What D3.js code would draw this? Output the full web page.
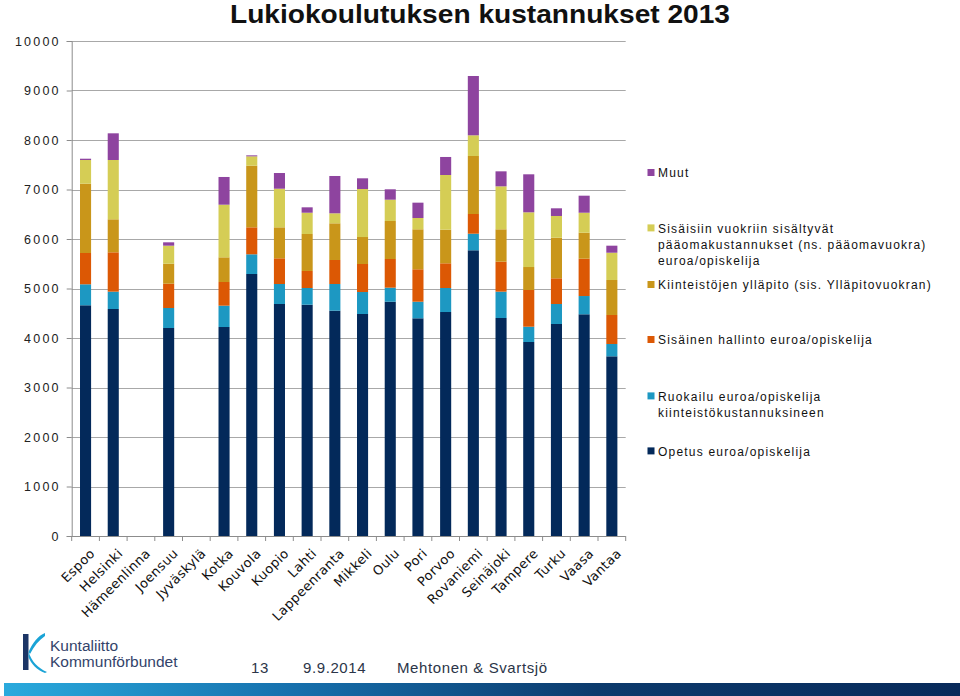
<!DOCTYPE html>
<html><head><meta charset="utf-8">
<script src="https://cdn.jsdelivr.net/npm/d3@7"></script>
<style>
html,body{margin:0;padding:0;background:#fff;}
svg{display:block;}
</style></head>
<body>
<svg id="chart" width="960" height="696"></svg>
<script>
const categories = ["Espoo","Helsinki","Hämeenlinna","Joensuu","Jyväskylä","Kotka","Kouvola","Kuopio","Lahti","Lappeenranta","Mikkeli","Oulu","Pori","Porvoo","Rovaniemi","Seinäjoki","Tampere","Turku","Vaasa","Vantaa"];
const opetus     = [4661,4586,0,4202,0,4222,5293,4687,4673,4552,4485,4733,4398,4525,5772,4404,3919,4283,4479,3630];
const ruokailu   = [424,350,0,404,0,431,398,404,337,539,444,284,335,485,335,532,309,404,369,249];
const hallinto   = [632,795,0,491,0,478,545,519,344,485,566,579,655,499,398,606,742,519,754,586];
const kiinteisto = [1400,667,0,404,0,499,1245,626,747,741,545,768,808,679,1172,654,464,820,525,707];
const paaoma     = [479,1198,0,364,0,1063,189,780,430,202,970,430,228,1105,418,868,1105,439,404,551];
const muut       = [26,539,0,68,0,560,20,317,109,754,216,210,310,364,1198,303,768,155,344,142];
const yTicks = [0,1000,2000,3000,4000,5000,6000,7000,8000,9000,10000];
const legendLines = [
  ["Opetus euroa/opiskelija"],
  ["Ruokailu euroa/opiskelija","kiinteistökustannuksineen"],
  ["Sisäinen hallinto euroa/opiskelija"],
  ["Kiinteistöjen ylläpito (sis. Ylläpitovuokran)"],
  ["Sisäisiin vuokriin sisältyvät","pääomakustannukset (ns. pääomavuokra)","euroa/opiskelija"],
  ["Muut"]
];
const colors = ["#03295a","#1d98c2","#dc5804","#c9961a","#d5cd55","#8e449f"];
const title = "Lukiokoulutuksen kustannukset 2013";

const svg = d3.select("#chart");
const keys = ["opetus","ruokailu","hallinto","kiinteisto","paaoma","muut"];
const arrs = [opetus,ruokailu,hallinto,kiinteisto,paaoma,muut];
const table = categories.map((c,i)=>{const o={cat:c}; keys.forEach((k,j)=>o[k]=arrs[j][i]); return o;});
const stacked = d3.stack().keys(keys)(table);

const pLeft=71.7, pRight=625.7, pTop=41, pBottom=536;
const x = d3.scaleBand().domain(categories).range([pLeft,pRight]).paddingInner(0.6).paddingOuter(0.3);
const y = d3.scaleLinear().domain([0,10000]).range([pBottom,pTop]);

// title
svg.append("text").attr("x",230).attr("y",22.5)
  .attr("textLength",500).attr("lengthAdjust","spacingAndGlyphs")
  .style("font-family","'Liberation Sans Narrow','Liberation Sans',Arial,sans-serif")
  .style("font-weight","bold").style("font-size","25px").attr("fill","#111").text(title);

// gridlines
svg.append("g").selectAll("line").data(yTicks.filter(d=>d>0)).join("line")
  .attr("x1",pLeft).attr("x2",pRight).attr("y1",d=>Math.round(y(d))+0.5).attr("y2",d=>Math.round(y(d))+0.5)
  .attr("stroke","#a8a8a8").attr("stroke-width",1);

// y axis
const yAxis = d3.axisLeft(y).tickValues(yTicks).tickSize(5).tickPadding(6).tickFormat(d3.format("d"));
const gy = svg.append("g").attr("transform",`translate(${pLeft},0)`).call(yAxis);
gy.select(".domain").attr("stroke","#8c8c8c");
gy.selectAll(".tick line").attr("stroke","#8c8c8c");
gy.selectAll(".tick text").style("font-family","'Liberation Sans',Arial,sans-serif")
  .style("font-size","12.5px").style("letter-spacing","2.2px").attr("fill","#222").attr("x",-11);

// bars
svg.append("g").selectAll("g").data(stacked).join("g").attr("fill",(d,i)=>colors[i])
  .selectAll("rect").data(d=>d).join("rect")
  .attr("x",d=>x(d.data.cat)).attr("width",x.bandwidth())
  .attr("y",d=>y(d[1])).attr("height",d=>Math.max(0,y(d[0])-y(d[1])));

// x axis
const step = x.step();
const bounds = d3.range(categories.length+1).map(i=>pLeft+i*step);
const gx = svg.append("g");
gx.append("line").attr("x1",pLeft).attr("x2",pRight).attr("y1",pBottom+0.5).attr("y2",pBottom+0.5).attr("stroke","#8c8c8c");
gx.selectAll("line.t").data(bounds).join("line").attr("class","t")
  .attr("x1",d=>d).attr("x2",d=>d).attr("y1",pBottom).attr("y2",pBottom+5).attr("stroke","#8c8c8c");
gx.selectAll("text").data(categories).join("text")
  .attr("transform",d=>`translate(${x(d)+x.bandwidth()/2+7},${pBottom+15}) rotate(-45)`)
  .attr("text-anchor","end").attr("dy","0.35em")
  .style("font-family","'DejaVu Sans',Verdana,sans-serif").style("font-size","13px")
  .style("letter-spacing","0.4px").attr("fill","#111")
  .text(d=>d);

// legend
const legendBase = [455.7, 400.7, 344.3, 289.3, 232.7, 177.3];
const lg = svg.append("g");
legendLines.forEach((lines,i)=>{
  lg.append("rect").attr("x",647.5).attr("y",legendBase[i]-8.3).attr("width",7).attr("height",7).attr("fill",colors[i]);
  lines.forEach((t,j)=>{
    lg.append("text").attr("x",658).attr("y",legendBase[i]+j*16.2)
      .style("font-family","'Liberation Sans',Arial,sans-serif").style("font-size","12px")
      .style("letter-spacing","1.2px").attr("fill","#111").text(t);
  });
});

// footer
const defs = svg.append("defs");
const grad = defs.append("linearGradient").attr("id","fg").attr("x1","0").attr("x2","1").attr("y1","0").attr("y2","0");
[[0,"#2aaadd"],[0.3,"#1670ad"],[0.62,"#0c3a6c"],[1,"#082a5a"]].forEach(s=>grad.append("stop").attr("offset",s[0]).attr("stop-color",s[1]));
svg.append("rect").attr("x",4).attr("y",683).attr("width",956).attr("height",13).attr("fill","url(#fg)");

// logo
const logo = svg.append("g");
logo.append("rect").attr("x",23).attr("y",634).attr("width",5.5).attr("height",36).attr("fill","#1c3566");
logo.append("path").attr("d","M28.5,652 C33,642 38,636 45,633 L45,636 C39,640 34,646 30,654 Z").attr("fill","#1aa3d6");
logo.append("path").attr("d","M28.5,652 C32,662 38,668 47,672 L45,673 C37,670 31,664 28.5,657 Z").attr("fill","#1aa3d6");
logo.append("text").attr("x",50).attr("y",651).style("font-family","'Liberation Sans',Arial,sans-serif")
  .style("font-size","15.5px").attr("fill","#33436a").text("Kuntaliitto");
logo.append("text").attr("x",50).attr("y",667).style("font-family","'Liberation Sans',Arial,sans-serif")
  .style("font-size","15.5px").attr("fill","#33436a").text("Kommunförbundet");
const foot = svg.append("g").style("font-family","'Liberation Sans',Arial,sans-serif").style("font-size","15px")
  .style("letter-spacing","0.6px").attr("fill","#2b3548");
foot.append("text").attr("x",251).attr("y",673).text("13");
foot.append("text").attr("x",303).attr("y",673).text("9.9.2014");
foot.append("text").attr("x",397).attr("y",673).text("Mehtonen & Svartsjö");
</script>
</body></html>
